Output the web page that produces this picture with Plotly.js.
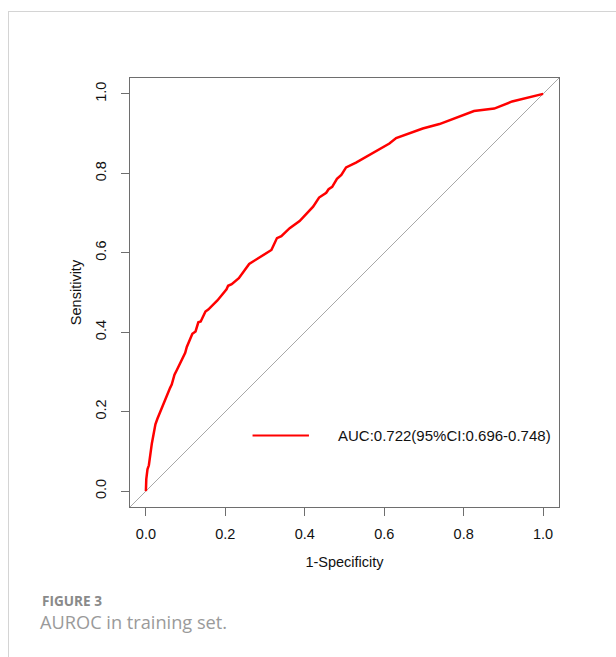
<!DOCTYPE html>
<html>
<head>
<meta charset="utf-8">
<script src="https://cdn.plot.ly/plotly-3.0.1.min.js"></script>
<style>
  html, body { margin: 0; padding: 0; background: #fff; }
  #wrap { position: relative; width: 616px; height: 657px; overflow: hidden; }
  #frame { position: absolute; left: 8px; top: 11px; right: -2px; bottom: -2px;
           border-left: 1px solid #d4d4d4; border-top: 1px solid #d4d4d4; }
  #chart { position: absolute; left: 0; top: 0; width: 616px; height: 657px; }
</style>
</head>
<body>
<div id="wrap">
  <div id="frame"></div>
  <div id="chart"></div>
</div>
<script>
// ROC curve points (1-Specificity, Sensitivity)
const fpr = [0, 0.001, 0.004, 0.0075, 0.015, 0.024, 0.029, 0.04, 0.05, 0.061, 0.065, 0.072, 0.078, 0.09,
  0.099, 0.103, 0.117, 0.125, 0.132, 0.138, 0.15, 0.157, 0.18, 0.203, 0.207, 0.216, 0.234, 0.26,
  0.287, 0.31, 0.316, 0.33, 0.341, 0.362, 0.387, 0.421, 0.436, 0.454, 0.46, 0.469, 0.481, 0.492,
  0.504, 0.529, 0.584, 0.613, 0.63, 0.697, 0.739, 0.789, 0.826, 0.877, 0.922, 1];
const tpr = [0, 0.03, 0.055, 0.065, 0.12, 0.168, 0.182, 0.21, 0.235, 0.26, 0.268, 0.293, 0.305, 0.331,
  0.348, 0.363, 0.396, 0.402, 0.425, 0.427, 0.452, 0.457, 0.48, 0.508, 0.517, 0.521, 0.536, 0.572,
  0.589, 0.603, 0.607, 0.637, 0.642, 0.662, 0.68, 0.716, 0.739, 0.751, 0.76, 0.766, 0.786, 0.796,
  0.815, 0.827, 0.859, 0.875, 0.889, 0.913, 0.924, 0.944, 0.957, 0.963, 0.981, 1];
const refLine = [-0.04, 1.04];
const tickVals = [0, 0.2, 0.4, 0.6, 0.8, 1.0];
const tickText = ["0.0", "0.2", "0.4", "0.6", "0.8", "1.0"];
const legendLabel = "AUC:0.722(95%CI:0.696-0.748)";
const xTitle = "1-Specificity";
const yTitle = "Sensitivity";
const captionHead = "FIGURE 3";
const captionText = "AUROC in training set.";

const axisFont = { family: "'Liberation Sans', Arial, sans-serif", size: 14.5, color: "#111" };

const traces = [
  { x: refLine, y: refLine, mode: "lines", line: { color: "#a8a8a8", width: 1 }, hoverinfo: "skip", showlegend: false },
  { x: fpr, y: tpr, mode: "lines", line: { color: "#ff0000", width: 2.5 }, name: legendLabel, showlegend: false }
];

const axBase = {
  range: [-0.04, 1.04], tickvals: tickVals, ticktext: tickText,
  showgrid: false, zeroline: false, showline: true, mirror: true,
  linecolor: "#6e6e6e", linewidth: 1.4, ticks: "outside", ticklen: 8,
  tickcolor: "#6e6e6e", tickwidth: 1.2, tickfont: axisFont, fixedrange: true
};

const layout = {
  width: 616, height: 657,
  margin: { l: 130, r: 57, t: 78, b: 150, pad: 0 },
  paper_bgcolor: "rgba(0,0,0,0)", plot_bgcolor: "#fff",
  showlegend: false,
  xaxis: Object.assign({}, axBase, {
    ticklabelstandoff: 5,
    title: { text: xTitle, font: axisFont, standoff: 16 }
  }),
  yaxis: Object.assign({}, axBase, {
    tickangle: -90, ticklabelstandoff: 9,
    title: { text: yTitle, font: axisFont, standoff: 7 }
  }),
  shapes: [
    { type: "line", xref: "x", yref: "y", x0: 0.2685, x1: 0.4105, y0: 0.14, y1: 0.14,
      line: { color: "#ff0000", width: 2 } }
  ],
  annotations: [
    { xref: "x", yref: "y", x: 0.479, y: 0.14, xanchor: "left", yanchor: "middle",
      text: legendLabel, showarrow: false, font: { family: "'Liberation Sans', Arial, sans-serif", size: 15, color: "#111" } },
    { xref: "paper", yref: "paper", x: (40 - 130) / 429, y: (507 - 600) / 429, xanchor: "left", yanchor: "middle",
      text: "<b>" + captionHead + "</b>", showarrow: false, font: { family: "'Open Sans', sans-serif", size: 13.6, color: "#8a8a8a" } },
    { xref: "paper", yref: "paper", x: (38 - 130) / 429, y: (507 - 622) / 429, xanchor: "left", yanchor: "middle",
      text: captionText, showarrow: false, font: { family: "'Open Sans', sans-serif", size: 18.2, color: "#9a9a9a" } }
  ]
};

Plotly.newPlot("chart", traces, layout, { displayModeBar: false, staticPlot: true });
</script>
</body>
</html>
